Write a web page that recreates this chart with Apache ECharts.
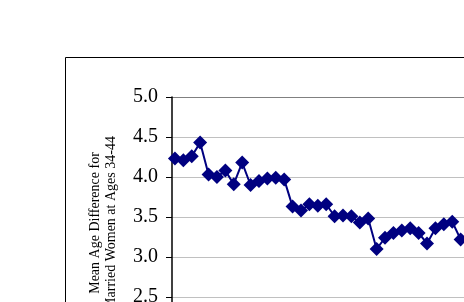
<!DOCTYPE html>
<html>
<head>
<meta charset="utf-8">
<script src="https://cdn.jsdelivr.net/npm/echarts@6/dist/echarts.min.js"></script>
<style>
html,body{margin:0;padding:0;background:#fff;}
#c{width:464px;height:302px;}
</style>
</head>
<body>
<div id="c"></div>
<script>
// Observation index (x) and mean age difference (y)
var obsIndex = [1,2,3,4,5,6,7,8,9,10,11,12,13,14,15,16,17,18,19,20,21,22,23,24,25,26,27,28,29,30,31,32,33,34,35];
var meanAgeDiff = [4.23,4.21,4.26,4.43,4.03,4.00,4.08,3.91,4.18,3.90,3.95,3.98,3.99,3.97,3.63,3.58,3.66,3.64,3.66,3.51,3.52,3.51,3.43,3.48,3.10,3.24,3.30,3.33,3.36,3.30,3.17,3.36,3.41,3.44,3.22];
var yTicks = [2.0,2.5,3.0,3.5,4.0,4.5,5.0];
var yName = "Mean Age Difference for\nMarried Women at Ages 34-44";

var data = obsIndex.map(function(x,i){return [x, meanAgeDiff[i]];});
var chart = echarts.init(document.getElementById('c'), null, {renderer:'canvas'});
chart.setOption({
  backgroundColor:'#ffffff',
  animation:false,
  grid:{left:172, top:97, width:292, height:240, containLabel:false, outerBoundsMode:'none'},
  xAxis:{type:'value', min:0.65, max:35.4, show:false},
  yAxis:{
    type:'value', min:yTicks[0], max:yTicks[yTicks.length-1], interval:0.5,
    name:yName, nameLocation:'middle', nameGap:53, nameRotate:90,
    nameTextStyle:{fontFamily:'Liberation Serif', fontSize:14, color:'#000', lineHeight:16, padding:[0,12,0,0]},
    axisLine:{show:true, lineStyle:{color:'#000', width:1.5}},
    axisTick:{show:true, inside:false, length:6, lineStyle:{color:'#000', width:1}},
    axisLabel:{fontFamily:'Liberation Serif', fontSize:20, color:'#000', margin:14,
      formatter:function(v){return v.toFixed(1);}},
    splitLine:{show:true, lineStyle:{color:['#c0c0c0','#c0c0c0','#c0c0c0','#c0c0c0','#c0c0c0','#c0c0c0','#808080'], width:1}}
  },
  series:[{
    type:'line', data:data, symbol:'diamond', symbolSize:14,
    itemStyle:{color:'#000080'}, lineStyle:{color:'#000080', width:2}
  }],
  graphic:[{type:'rect', shape:{x:65.5, y:57.5, width:500, height:300}, style:{fill:'none', stroke:'#000', lineWidth:1}, z:100}]
});
</script>
</body>
</html>
